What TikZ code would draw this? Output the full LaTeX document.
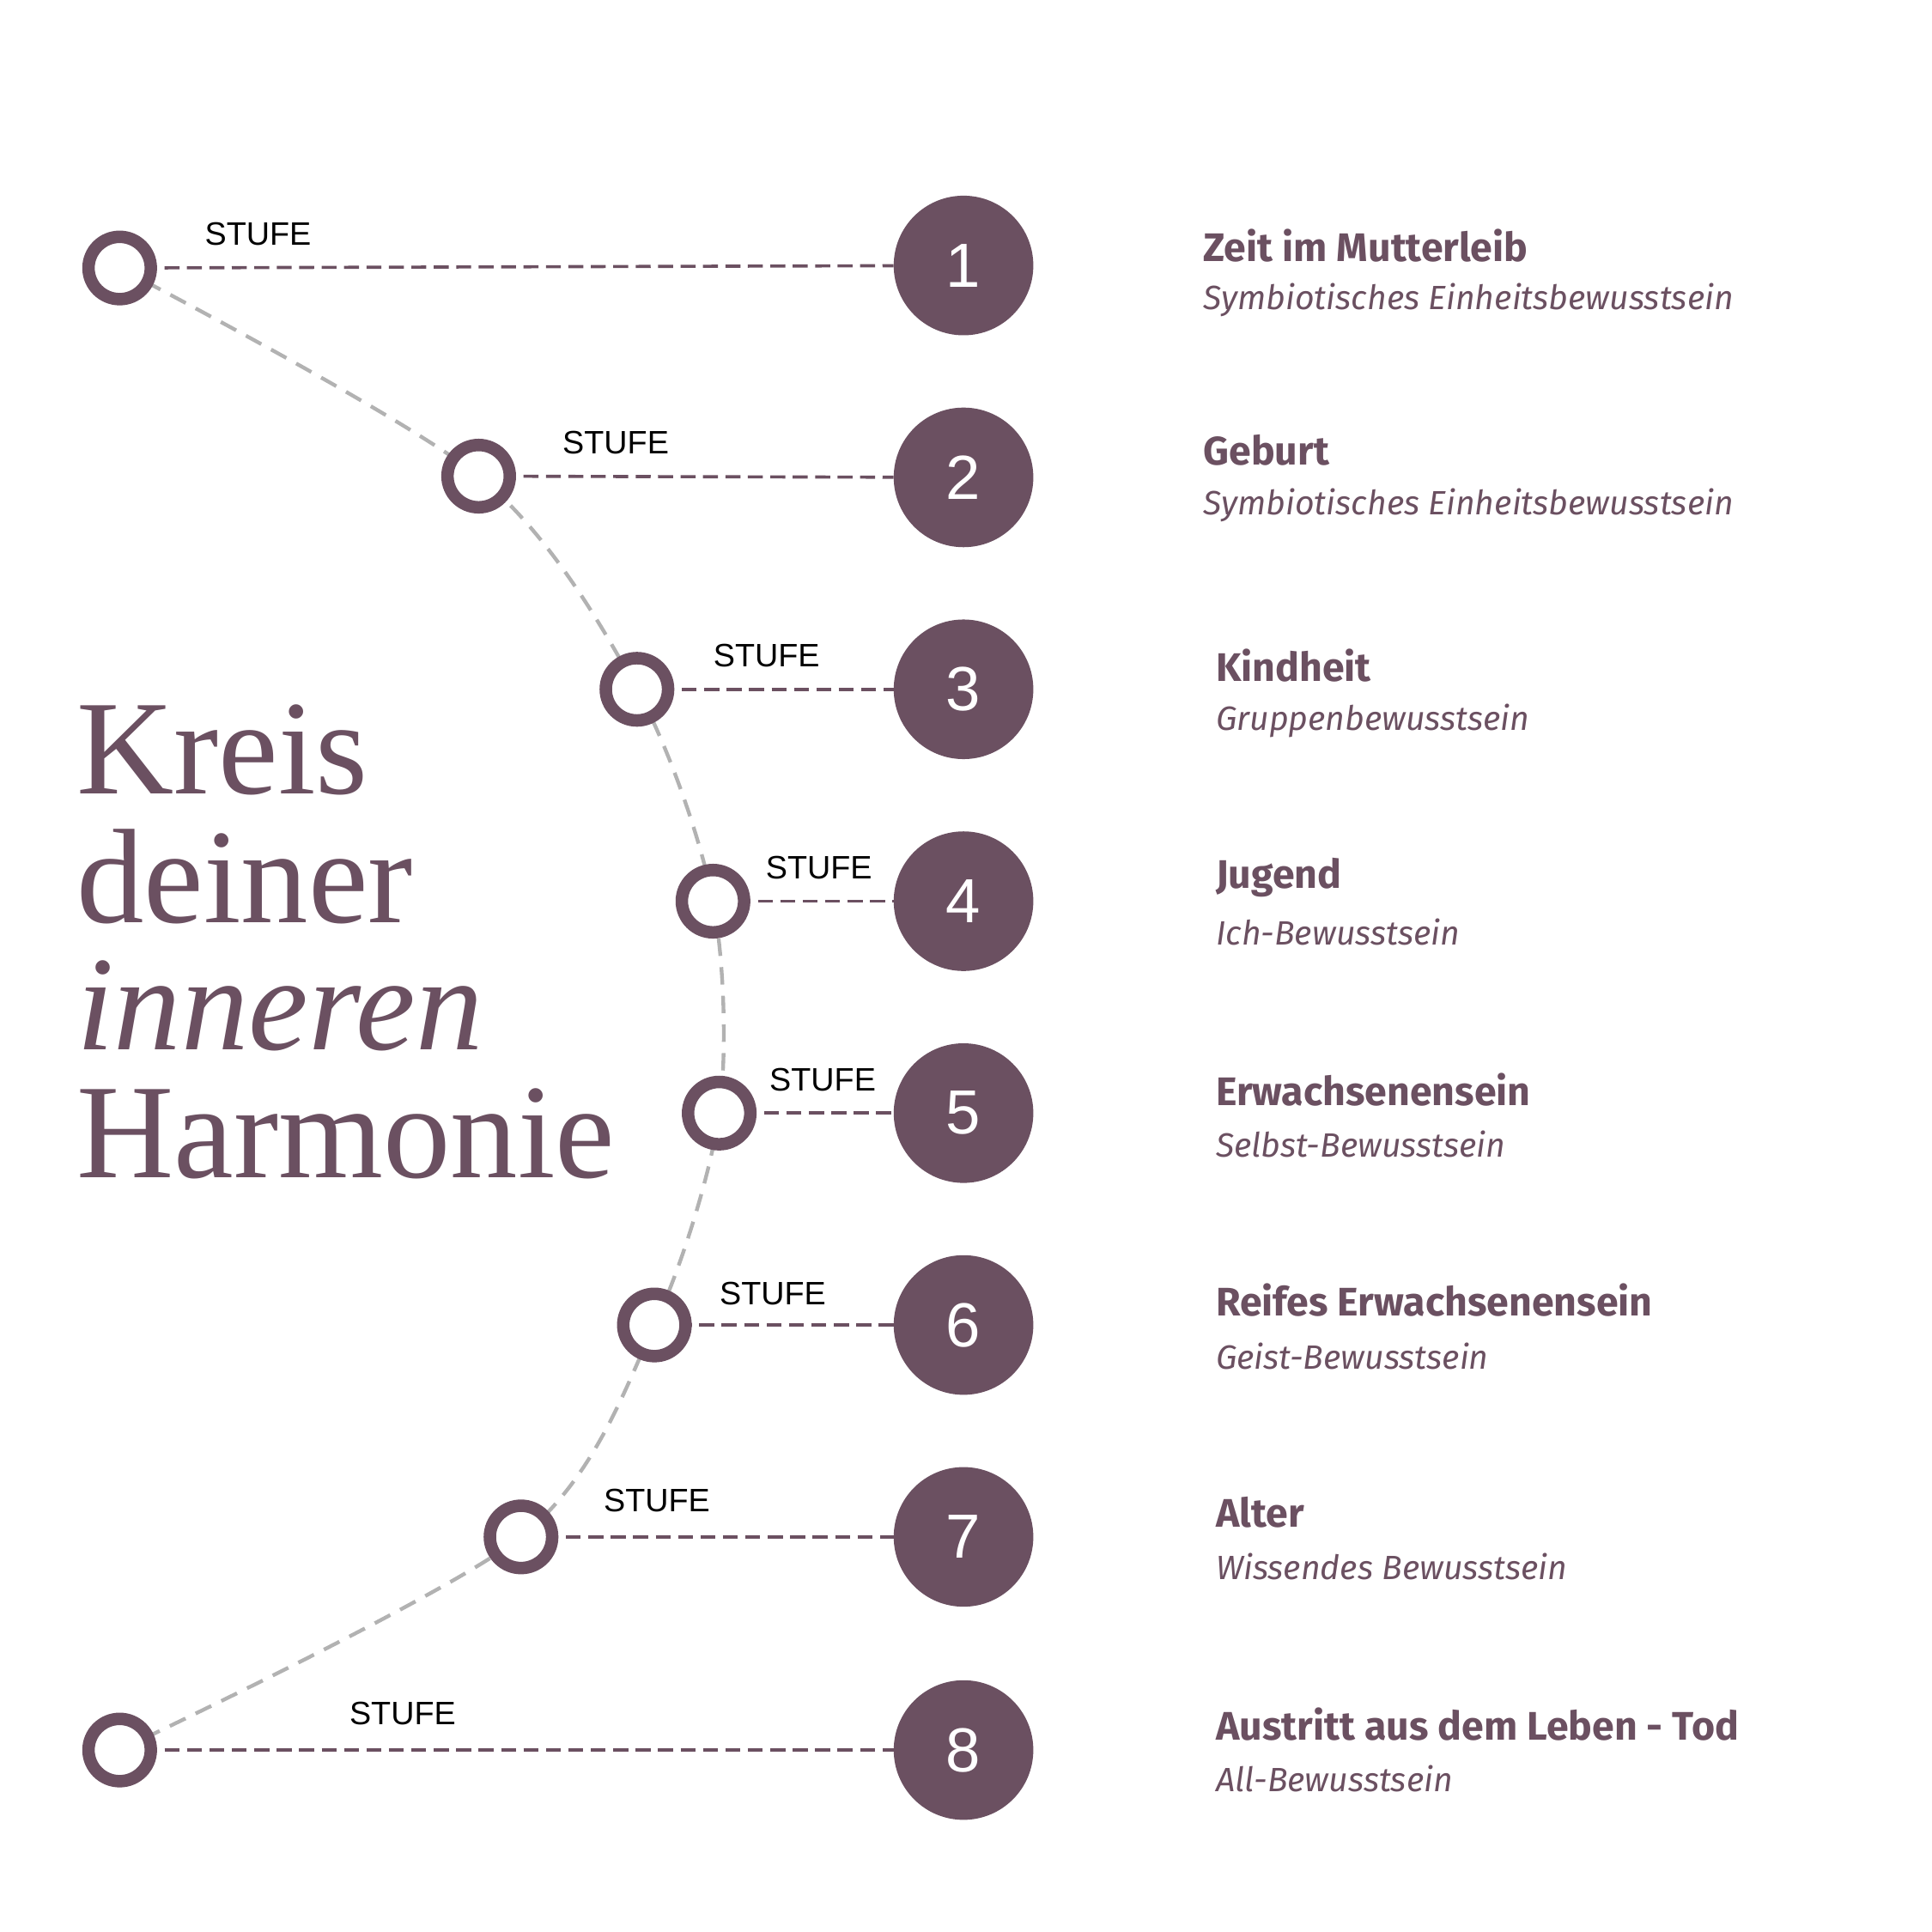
\documentclass[tikz,border=0pt]{standalone}
\usepackage{fontspec}
\setmainfont{Fira Sans}
\newfontfamily\titlefont{Liberation Serif}
\newfontfamily\numfont{Liberation Sans}
\definecolor{plum}{HTML}{6B5061}
\begin{document}
\begin{tikzpicture}[x=1pt,y=-1pt,
  ring/.style={circle,draw=plum,line width=10pt,fill=white,minimum size=50pt,inner sep=0},
  big/.style={circle,fill=plum,minimum size=112pt,inner sep=0,text=white,font=\numfont\fontsize{50}{50}\selectfont},
  link/.style={draw=plum,dashed,line width=2.5pt,dash pattern=on 12pt off 6pt},
  stufe/.style={font=\numfont\fontsize{26}{26}\selectfont,text=black},
  head/.style={anchor=west,text=plum,font=\bfseries\fontsize{32}{32}\selectfont},
  sub/.style={anchor=west,text=plum,font=\itshape\fontsize{27}{27}\selectfont},
  ttl/.style={anchor=base west,text=plum,font=\titlefont\fontsize{108}{108}\selectfont}]
\useasboundingbox (0,0) rectangle (1550,1550);
\coordinate (c1) at (96,215);
\coordinate (c2) at (384,382);
\coordinate (c3) at (511,553);
\coordinate (c4) at (572,723);
\coordinate (c5) at (577,893);
\coordinate (c6) at (525,1063);
\coordinate (c7) at (418,1233);
\coordinate (c8) at (96,1404);
\draw[gray!60,line width=3pt,dash pattern=on 14pt off 9pt] plot[smooth] coordinates {(c1) (c2) (c3) (c4) (c5) (c6) (c7) (c8)};
\foreach \i/\y/\sx/\sy in {1/213/207/188,2/383/494/355,3/553/615/526,4/723/657/696,5/893/660/866,6/1063/620/1038,7/1233/527/1204,8/1404/323/1375}{
  \node[big] (b\i) at (773,\y) {\i};
  \draw[link] (c\i) -- (b\i);
  \node[ring] (r\i) at (c\i) {};
  \node[stufe] (s\i) at (\sx,\sy) {STUFE};
}
\node[head] (h1) at (962,197) {Zeit im Mutterleib};
\node[sub] (t1) at (962,241) {Symbiotisches Einheitsbewusstsein};
\node[head] (h2) at (962,361) {Geburt};
\node[sub] (t2) at (962,405) {Symbiotisches Einheitsbewusstsein};
\node[head] (h3) at (972,534) {Kindheit};
\node[sub] (t3) at (972,578) {Gruppenbewusstsein};
\node[head] (h4) at (972,704) {Jugend};
\node[sub] (t4) at (972,748) {Ich-Bewusstsein};
\node[head] (h5) at (972,874) {Erwachsenensein};
\node[sub] (t5) at (972,918) {Selbst-Bewusstsein};
\node[head] (h6) at (972,1043) {Reifes Erwachsenensein};
\node[sub] (t6) at (972,1088) {Geist-Bewusstsein};
\node[head] (h7) at (972,1213) {Alter};
\node[sub] (t7) at (972,1257) {Wissendes Bewusstsein};
\node[head] (h8) at (972,1383) {Austritt aus dem Leben - Tod};
\node[sub] (t8) at (972,1427) {All-Bewusstsein};
\node[ttl] (k1) at (58,637) {Kreis};
\node[ttl] (k2) at (58,740) {deiner};
\node[ttl,font=\titlefont\itshape\fontsize{108}{108}\selectfont] (k3) at (58,842) {inneren};
\node[ttl] (k4) at (58,945) {Harmonie};
\end{tikzpicture}
\end{document}
